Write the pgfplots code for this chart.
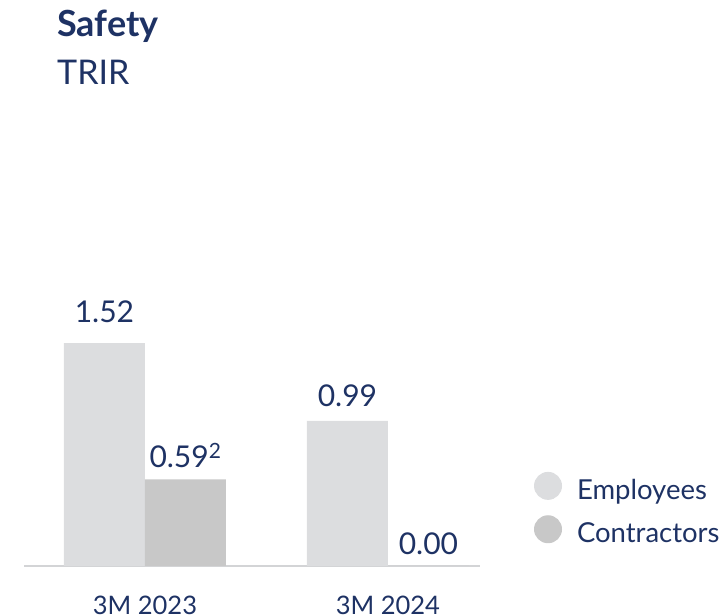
\documentclass[border=0pt]{standalone}
\usepackage{pgfplots}
\pgfplotsset{compat=1.18}
\usepackage{fontspec}
\setmainfont{Lato}
\definecolor{navy}{HTML}{1E3264}
\definecolor{emp}{HTML}{DCDDDF}
\definecolor{con}{HTML}{C8C8C8}
\definecolor{axl}{HTML}{D3D4D6}
\begin{document}
\begin{tikzpicture}[x=1bp,y=1bp]
\useasboundingbox (0,0) rectangle (728,616);
\node[anchor=base west, font=\fontsize{36bp}{40bp}\selectfont\bfseries, text=navy, inner sep=0pt] at (57,579) {Safety};
\node[anchor=base west, font=\fontsize{34bp}{38bp}\selectfont, text=navy, inner sep=0pt] at (57,531) {TRIR};
\begin{axis}[
  at={(24bp,50bp)}, anchor=south west,
  scale only axis, width=456bp, height=440bp,
  xmin=-0.498, xmax=1.379, ymin=0, ymax=3,
  ybar=0pt, bar width=81bp,
  axis x line=bottom, axis y line=none,
  x axis line style={draw=axl, line width=2bp, -},
  xtick={0,1}, xticklabels={3M 2023,3M 2024}, major tick length=0pt,
  xticklabel style={font=\fontsize{25.5bp}{30bp}\selectfont, text=navy, anchor=base, yshift=-49bp},
  ytick=\empty,
  clip=false,
  point meta=explicit symbolic,
  nodes near coords,
  every node near coord/.append style={font=\fontsize{30bp}{33bp}\selectfont, text=navy, anchor=base, yshift=12bp},
  legend style={at={(1.118,0.132)}, anchor=west, draw=none, fill=none,
    font=\fontsize{27.5bp}{30bp}\selectfont, text=navy, row sep=14.5bp, column sep=15bp,
    inner sep=0pt, nodes={inner sep=0pt}},
  legend cell align=left,
  legend image code/.code={\path[#1, draw=none] (14bp,4bp) circle (14bp);},
]
\addplot[fill=emp, draw=none] coordinates {(0,1.52) [\raisebox{9bp}{1.52}] (1,0.99) [\raisebox{2bp}{0.99}]};
\addplot[fill=con, draw=none] coordinates {(0,0.59) [0.59\textsuperscript{2}] (1,0) [\raisebox{-1bp}{0.00}]};
\legend{Employees,Contractors}
\end{axis}
\end{tikzpicture}
\end{document}
